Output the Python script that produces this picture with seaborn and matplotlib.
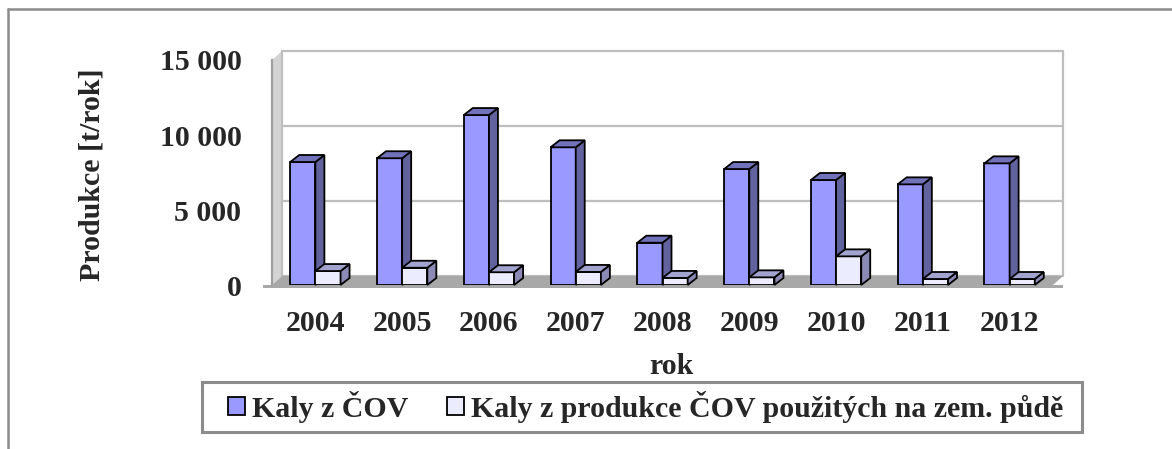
import numpy as np
import pandas as pd
import matplotlib
matplotlib.use("Agg")
import matplotlib.pyplot as plt
import seaborn as sns
from matplotlib.patches import Polygon, Rectangle, Patch
from matplotlib.lines import Line2D
from matplotlib.ticker import FuncFormatter

# ============ Data ============
years = ["2004", "2005", "2006", "2007", "2008", "2009", "2010", "2011", "2012"]
kaly_cov = [8200, 8450, 11330, 9180, 2820, 7730, 7000, 6710, 8110]
kaly_puda = [930, 1150, 850, 870, 470, 510, 1910, 400, 400]
series = ["Kaly z ČOV", "Kaly z produkce ČOV použitých na zem. půdě"]
y_ticks = [0, 5000, 10000, 15000]

# ============ Style ============
W, H = 1172, 449
DPI = 100
FONT = ["Liberation Serif", "DejaVu Serif"]
FS = 21.5

# face / side / top colours for both series
COLORS = {
    series[0]: ("#9999FF", "#62629F", "#7272BB"),
    series[1]: ("#ECECFF", "#8A8AB4", "#A3A3CF"),
}
GRID_C = "#BEBEBE"
AXIS_C = "#A0A0A0"

sns.set_style("white")
plt.rcParams["font.family"] = FONT
plt.rcParams["font.weight"] = "bold"

df = pd.DataFrame({
    "rok": years * 2,
    "hodnota": kaly_cov + kaly_puda,
    "serie": [series[0]] * len(years) + [series[1]] * len(years),
})

fig = plt.figure(figsize=(W / DPI, H / DPI), dpi=DPI)
# axes = front face of the 3D box (pixel layout)
x0_px, x1_px, ybot_px, ytop_px = 272, 1053, 285, 60
ax = fig.add_axes([x0_px / W, 1 - ybot_px / H, (x1_px - x0_px) / W, (ybot_px - ytop_px) / H])

n = len(years)
ax.set_xlim(-0.5, n - 0.5)
ax.set_ylim(0, 15000)

# pixel -> data conversion
px_x = n / (x1_px - x0_px)
px_y = 15000 / (ybot_px - ytop_px)

# back wall offset and bar depth offset (pixels)
wdx, wdy = 10 * px_x, 9 * px_y
bdx, bdy = 9 * px_x, 7 * px_y
xl, xr = -0.5, n - 0.5

# left side wall and floor
ax.add_patch(Polygon([(xl, 0), (xl, 15000), (xl + wdx, 15000 + wdy), (xl + wdx, wdy)],
                     closed=True, facecolor="#D4D4D4", edgecolor="none", clip_on=False, zorder=0))
ax.add_patch(Polygon([(xl, 0), (xr, 0), (xr + wdx, wdy), (xl + wdx, wdy)],
                     closed=True, facecolor="#A8A8A8", edgecolor="none", clip_on=False, zorder=0.5))
ax.add_patch(Rectangle((xl - 9 * px_x, -3 * px_y), (xr - xl) + 9 * px_x + wdx, 3 * px_y,
                       facecolor="#A8A8A8", edgecolor="none", clip_on=False, zorder=0.5))

# back wall grid
for v in y_ticks:
    ax.plot([xl + wdx, xr + wdx], [v + wdy, v + wdy], color=GRID_C, lw=1.6, clip_on=False, zorder=0.2)
ax.plot([xl + wdx, xl + wdx], [wdy, 15000 + wdy], color=GRID_C, lw=1.6, clip_on=False, zorder=0.2)
ax.plot([xr + wdx, xr + wdx], [wdy, 15000 + wdy], color=GRID_C, lw=1.6, clip_on=False, zorder=0.2)

# bars
sns.barplot(data=df, x="rok", y="hodnota", hue="serie", hue_order=series,
            palette={s: COLORS[s][0] for s in series}, width=0.58, dodge=True,
            edgecolor="black", linewidth=1.3, saturation=1, legend=False, ax=ax)

bars = [p for p in ax.patches if isinstance(p, Rectangle) and p.get_width() < 0.5]
z = 2
for p in sorted(bars, key=lambda r: r.get_x()):
    x, w, h = p.get_x(), p.get_width(), p.get_height()
    face = p.get_facecolor()
    key = series[0] if face[0] < 0.7 else series[1]
    _, side_c, top_c = COLORS[key]
    p.set_zorder(z)
    side = Polygon([(x + w, 0), (x + w, h), (x + w + bdx, h + bdy), (x + w + bdx, bdy)],
                   closed=True, facecolor=side_c, edgecolor="black", lw=1.3, zorder=z, clip_on=False)
    top = Polygon([(x, h), (x + w, h), (x + w + bdx, h + bdy), (x + bdx, h + bdy)],
                  closed=True, facecolor=top_c, edgecolor="black", lw=1.3, zorder=z, clip_on=False)
    ax.add_patch(side)
    ax.add_patch(top)
    z += 0.01

# axes, ticks
for s in ["top", "right", "bottom"]:
    ax.spines[s].set_visible(False)
ax.spines["left"].set_color(AXIS_C)
ax.spines["left"].set_linewidth(1.6)
ax.set_yticks(y_ticks)
ax.yaxis.set_major_formatter(FuncFormatter(lambda v, _: f"{int(v):,}".replace(",", " ")))
ax.tick_params(axis="y", length=7, width=1.6, color=AXIS_C, pad=15, labelsize=FS)
ax.set_xticks(range(n))
ax.set_xticklabels(years)
ax.set_xticks(np.arange(-0.5, n, 1.0), minor=True)
ax.tick_params(axis="x", which="major", length=0, pad=18, labelsize=FS)
ax.tick_params(axis="x", which="minor", length=8, width=1.6, color=AXIS_C)
for lab in ax.get_xticklabels() + ax.get_yticklabels():
    lab.set_fontweight("bold")

ax.set_xlabel("rok", fontsize=FS, fontweight="bold", va="center")
ax.xaxis.set_label_coords((671 - x0_px) / (x1_px - x0_px), -(367 - ybot_px) / (ybot_px - ytop_px))
ax.set_ylabel("Produkce [t/rok]", fontsize=FS, fontweight="bold", va="center")
ax.yaxis.set_label_coords((92 - x0_px) / (x1_px - x0_px), (ybot_px - 175) / (ybot_px - ytop_px))

# legend with its own box
handles = [Patch(facecolor=COLORS[s][0], edgecolor="black", lw=1.3) for s in series]
fig.legend(handles, series, loc="center", bbox_to_anchor=(646 / W, 1 - 407 / H), ncol=2,
           frameon=False, prop={"family": FONT, "weight": "bold", "size": FS},
           handlelength=0.55, handleheight=0.55, handletextpad=0.25, columnspacing=1.3)
fig.patches.append(Rectangle((202 / W, 1 - 432 / H), 880 / W, 50 / H, transform=fig.transFigure,
                             facecolor="none", edgecolor="#8C8C8C", lw=2.2))

# chart border (top and left visible in the reference)
fig.lines.append(Line2D([8 / W, 1.0], [1 - 9 / H, 1 - 9 / H], transform=fig.transFigure, color="#8C8C8C", lw=1.8))
fig.lines.append(Line2D([8 / W, 8 / W], [0, 1 - 9 / H], transform=fig.transFigure, color="#8C8C8C", lw=1.8))

fig.savefig("out.png", dpi=DPI)
